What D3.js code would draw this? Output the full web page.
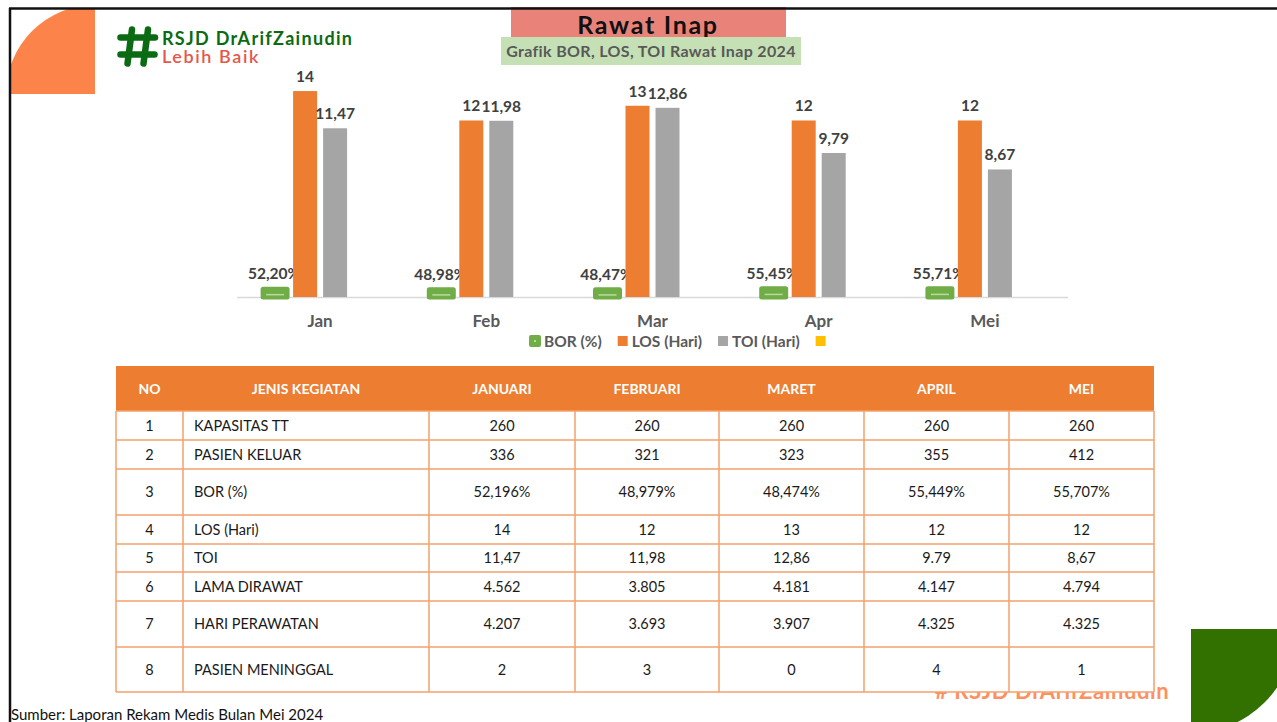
<!DOCTYPE html>
<html><head><meta charset="utf-8">
<script src="https://cdn.jsdelivr.net/npm/d3@7"></script>
<style>html,body{margin:0;padding:0;background:#fff;overflow:hidden}svg{display:block}</style>
</head><body>
<script>
// ---------- DATA ----------
const months = ["Jan", "Feb", "Mar", "Apr", "Mei"];
const seriesNames = ["BOR (%)", "LOS (Hari)", "TOI (Hari)", ""];
const borValues = [0.5220, 0.4898, 0.4847, 0.5545, 0.5571];
const losValues = [14, 12, 13, 12, 12];
const toiValues = [11.47, 11.98, 12.86, 9.79, 8.67];

const tableHeader = ["NO", "JENIS KEGIATAN", "JANUARI", "FEBRUARI", "MARET", "APRIL", "MEI"];
const rowNumbers = ["1", "2", "3", "4", "5", "6", "7", "8"];
const rowLabels = ["KAPASITAS TT", "PASIEN KELUAR", "BOR (%)", "LOS (Hari)", "TOI", "LAMA DIRAWAT", "HARI PERAWATAN", "PASIEN MENINGGAL"];
const kapasitasTT = ["260", "260", "260", "260", "260"];
const pasienKeluar = ["336", "321", "323", "355", "412"];
const borTable = ["52,196%", "48,979%", "48,474%", "55,449%", "55,707%"];
const losTable = ["14", "12", "13", "12", "12"];
const toiTable = ["11,47", "11,98", "12,86", "9.79", "8,67"];
const lamaDirawat = ["4.562", "3.805", "4.181", "4.147", "4.794"];
const hariPerawatan = ["4.207", "3.693", "3.907", "4.325", "4.325"];
const pasienMeninggal = ["2", "3", "0", "4", "1"];

const titleText = "Rawat Inap";
const subtitleText = "Grafik BOR, LOS, TOI Rawat Inap 2024";
const logoLine1 = "RSJD DrArifZainudin";
const logoLine2 = "Lebih Baik";
const sourceText = "Sumber: Laporan Rekam Medis Bulan Mei 2024";

// ---------- SETUP ----------
const W = 1277, H = 722;
const svg = d3.select("body").append("svg").attr("width", W).attr("height", H);
const locale = d3.formatLocale({decimal: ",", thousands: ".", grouping: [3], currency: ["", ""]});
const fmtPct = locale.format(".2%"), fmt2 = locale.format(".2f"), fmtInt = locale.format("d");
const FONT = "Lato, 'Open Sans', sans-serif";

const colors = {bor: "#70AD47", los: "#ED7D31", toi: "#A5A5A5", extra: "#FFC000"};

// Decorative corner shapes
svg.append("defs").append("clipPath").attr("id", "slide")
  .append("rect").attr("x", 11).attr("y", 9).attr("width", W).attr("height", H);
svg.append("g").attr("clip-path", "url(#slide)")
  .append("path")
  .attr("d", d3.arc()({innerRadius: 0, outerRadius: 89, startAngle: -Math.PI / 2, endAngle: 0}))
  .attr("transform", "translate(95,94)").attr("fill", "#FC844B");
svg.append("path")
  .attr("d", d3.arc()({innerRadius: 0, outerRadius: 104, startAngle: Math.PI / 2, endAngle: Math.PI}))
  .attr("transform", "translate(1191,629)").attr("fill", "#327100");

// Logo
const logo = svg.append("g").attr("stroke", "#0B6B12").attr("stroke-width", 6.5).attr("stroke-linecap", "round");
logo.append("line").attr("x1", 120.5).attr("y1", 37.5).attr("x2", 155).attr("y2", 37.5);
logo.append("line").attr("x1", 120.5).attr("y1", 54.5).attr("x2", 154.5).attr("y2", 54.5);
logo.append("line").attr("x1", 132).attr("y1", 29.5).attr("x2", 127.5).attr("y2", 63.5);
logo.append("line").attr("x1", 148).attr("y1", 29.5).attr("x2", 143.5).attr("y2", 63.5);
svg.append("text").attr("x", 162).attr("y", 44.5).attr("font-family", FONT).attr("font-weight", 700)
  .attr("font-size", 18).attr("letter-spacing", 1.3).attr("fill", "#0B6B12").text(logoLine1);
svg.append("text").attr("x", 162).attr("y", 63).attr("font-family", FONT).attr("font-weight", 600)
  .attr("font-size", 18).attr("letter-spacing", 1.6).attr("fill", "#E4574A").text(logoLine2);

// Title boxes
svg.append("rect").attr("x", 511).attr("y", 7).attr("width", 275).attr("height", 30).attr("fill", "#E9837A");
svg.append("text").attr("x", 648).attr("y", 34).attr("text-anchor", "middle").attr("font-family", FONT)
  .attr("font-weight", 700).attr("font-size", 25).attr("letter-spacing", 1.7).attr("fill", "#111").text(titleText);
svg.append("rect").attr("x", 501).attr("y", 37).attr("width", 300).attr("height", 28).attr("fill", "#C5E0B4");
svg.append("text").attr("x", 651).attr("y", 57).attr("text-anchor", "middle").attr("font-family", FONT)
  .attr("font-weight", 700).attr("font-size", 16).attr("letter-spacing", 0.35).attr("fill", "#595959").text(subtitleText);

// ---------- CHART ----------
const base = 297;
const x0 = d3.scaleBand().domain(months).range([237, 1068]).padding(0);
const x1 = d3.scaleBand().domain(seriesNames.map((d, i) => "s" + i))
  .range([x0.bandwidth() / 2 - 60, x0.bandwidth() / 2 + 60]).paddingInner(0.2).paddingOuter(0.1);
const y = d3.scaleLinear().domain([0, 16]).range([base, base - 16 * 14.71]);

svg.append("line").attr("x1", 237).attr("x2", 1068).attr("y1", base + 0.5).attr("y2", base + 0.5)
  .attr("stroke", "#D9D9D9").attr("stroke-width", 1.5);

const groups = svg.selectAll("g.grp").data(months).join("g").attr("class", "grp")
  .attr("transform", d => `translate(${x0(d)},0)`);

const labelFont = 15.5;
groups.each(function (m, i) {
  const g = d3.select(this);
  const bx = x1("s0"), bw = x1.bandwidth(), top = y(borValues[i]);
  g.append("rect").attr("x", bx).attr("y", top).attr("width", bw).attr("height", base - top)
    .attr("fill", colors.bor).attr("stroke", colors.bor).attr("stroke-width", 5).attr("stroke-linejoin", "round");
  g.append("line").attr("x1", bx + 3).attr("x2", bx + bw - 3)
    .attr("y1", (top + base) / 2 + 1.5).attr("y2", (top + base) / 2 + 1.5)
    .attr("stroke", "#B9DBA2").attr("stroke-width", 1.5);
  g.append("text").attr("x", bx + bw / 2 - 1).attr("y", top - 10).attr("text-anchor", "middle")
    .attr("font-family", FONT).attr("font-weight", 700).attr("font-size", labelFont).attr("fill", "#404040")
    .text(fmtPct(borValues[i]));

  const lx = x1("s1"), lt = y(losValues[i]);
  g.append("rect").attr("x", lx).attr("y", lt).attr("width", bw).attr("height", base - lt).attr("fill", colors.los);
  g.append("text").attr("x", lx + bw / 2).attr("y", lt - 9).attr("text-anchor", "middle")
    .attr("font-family", FONT).attr("font-weight", 700).attr("font-size", labelFont).attr("fill", "#404040")
    .text(fmtInt(losValues[i]));

  const tx = x1("s2"), tt = y(toiValues[i]);
  g.append("rect").attr("x", tx).attr("y", tt).attr("width", bw).attr("height", base - tt).attr("fill", colors.toi);
  g.append("text").attr("x", tx + bw / 2).attr("y", tt - 9).attr("text-anchor", "middle")
    .attr("font-family", FONT).attr("font-weight", 700).attr("font-size", labelFont).attr("fill", "#404040")
    .text(fmt2(toiValues[i]));
});

// category axis
const xAxis = svg.append("g").attr("transform", `translate(0,${base})`)
  .call(d3.axisBottom(x0).tickSize(0).tickPadding(18));
xAxis.select(".domain").remove();
xAxis.selectAll("text").attr("font-family", FONT).attr("font-weight", 700).attr("font-size", 17)
  .attr("fill", "#595959").attr("dy", "0.71em");

// legend
const legend = svg.append("g").attr("transform", "translate(529,341)");
let lxPos = 0;
const legendColors = [colors.bor, colors.los, colors.toi, colors.extra];
seriesNames.forEach((name, i) => {
  if (i === 0) {
    legend.append("rect").attr("x", lxPos).attr("y", -6).attr("width", 12).attr("height", 12).attr("rx", 2)
      .attr("fill", colors.bor);
    legend.append("rect").attr("x", lxPos + 5).attr("y", -1).attr("width", 2).attr("height", 2).attr("fill", "#B9DBA2");
    lxPos += 15;
  } else {
    legend.append("rect").attr("x", lxPos).attr("y", -5).attr("width", 10).attr("height", 10).attr("fill", legendColors[i]);
    lxPos += 14;
  }
  if (name) {
    const t = legend.append("text").attr("x", lxPos).attr("y", 5.5).attr("font-family", FONT)
      .attr("font-weight", 700).attr("font-size", 15.5).attr("fill", "#595959").text(name);
    lxPos += t.node().getComputedTextLength() + 16;
  }
});

// watermark (behind table)
svg.append("text").attr("x", 935).attr("y", 699).attr("font-family", FONT).attr("font-weight", 700)
  .attr("font-size", 22).attr("letter-spacing", 0.6).attr("fill", "#FD9060").text("# " + logoLine1);

// ---------- TABLE ----------
const colEdges = [116, 183, 429, 575, 719, 864, 1009, 1154];
const rowEdges = [366, 411, 440, 469, 515, 544, 572, 601, 647, 692];
const bodyRows = [kapasitasTT, pasienKeluar, borTable, losTable, toiTable, lamaDirawat, hariPerawatan, pasienMeninggal];
const table = svg.append("g");
table.append("rect").attr("x", colEdges[0]).attr("y", rowEdges[1]).attr("width", colEdges[7] - colEdges[0])
  .attr("height", rowEdges[9] - rowEdges[1]).attr("fill", "#fff");
table.append("rect").attr("x", colEdges[0]).attr("y", rowEdges[0]).attr("width", colEdges[7] - colEdges[0])
  .attr("height", rowEdges[1] - rowEdges[0]).attr("fill", "#ED7D31");
tableHeader.forEach((h, c) => {
  table.append("text").attr("x", (colEdges[c] + colEdges[c + 1]) / 2).attr("y", (rowEdges[0] + rowEdges[1]) / 2)
    .attr("dy", "0.36em").attr("text-anchor", "middle").attr("font-family", FONT).attr("font-weight", 700)
    .attr("font-size", 14).attr("fill", "#fff").text(h);
});
const lineColor = "#F3A06B";
rowEdges.slice(1).forEach(yy => {
  table.append("line").attr("x1", colEdges[0]).attr("x2", colEdges[7]).attr("y1", yy).attr("y2", yy)
    .attr("stroke", lineColor).attr("stroke-width", 1.5);
});
colEdges.forEach(xx => {
  table.append("line").attr("x1", xx).attr("x2", xx).attr("y1", rowEdges[1]).attr("y2", rowEdges[9])
    .attr("stroke", lineColor).attr("stroke-width", 1.5);
});
bodyRows.forEach((vals, r) => {
  const cy = (rowEdges[r + 1] + rowEdges[r + 2]) / 2;
  const txt = (x, s, anchor) => table.append("text").attr("x", x).attr("y", cy).attr("dy", "0.36em")
    .attr("text-anchor", anchor).attr("font-family", FONT).attr("font-size", 14.5).attr("fill", "#1a1a1a").text(s);
  txt((colEdges[0] + colEdges[1]) / 2, rowNumbers[r], "middle");
  txt(colEdges[1] + 11, rowLabels[r], "start");
  vals.forEach((v, c) => txt((colEdges[c + 2] + colEdges[c + 3]) / 2, v, "middle"));
});

// source note
svg.append("text").attr("x", 11).attr("y", 720).attr("font-family", FONT).attr("font-size", 15)
  .attr("fill", "#111").text(sourceText);

// slide border
svg.append("line").attr("x1", 9).attr("x2", W).attr("y1", 8.5).attr("y2", 8.5).attr("stroke", "#111").attr("stroke-width", 2.5);
svg.append("line").attr("x1", 10).attr("x2", 10).attr("y1", 8).attr("y2", H).attr("stroke", "#111").attr("stroke-width", 2.5);
</script>
</body></html>
